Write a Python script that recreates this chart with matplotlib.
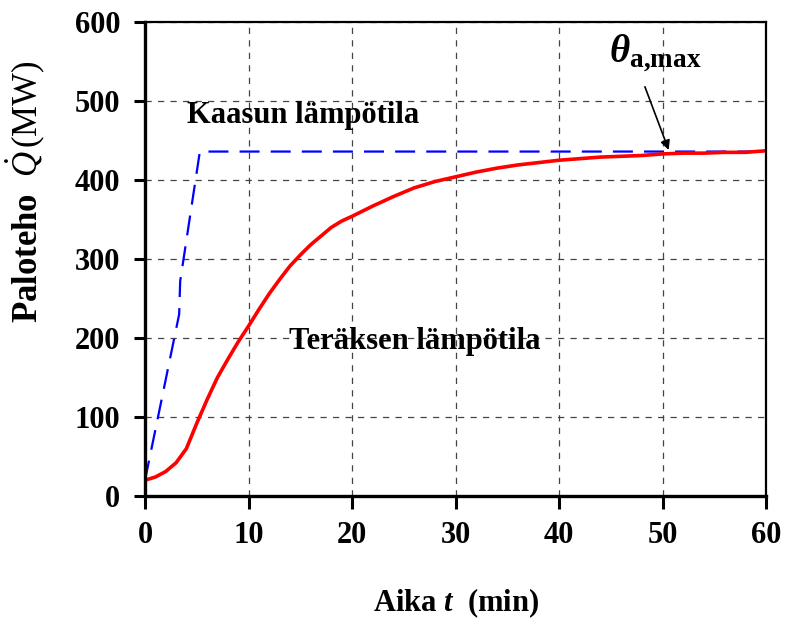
import matplotlib
matplotlib.use('Agg')
import matplotlib.pyplot as plt

plt.rcParams['font.family'] = 'Liberation Serif'
plt.rcParams['font.weight'] = 'bold'
plt.rcParams['axes.labelweight'] = 'bold'
plt.rcParams['mathtext.fontset'] = 'custom'
plt.rcParams['mathtext.rm'] = 'Liberation Serif:normal'
plt.rcParams['mathtext.it'] = 'Liberation Serif:italic:normal'
plt.rcParams['mathtext.bf'] = 'Liberation Serif:bold'
plt.rcParams['mathtext.bfit'] = 'Liberation Serif:italic:bold'

# kaasun lämpötila (katkoviiva)
aika_kaasu = [0, 3.3, 3.4, 5.3, 60]
teho_kaasu = [20, 230, 272, 436, 436]

# teräksen lämpötila (punainen käyrä)
aika_teras = [0, 1, 2, 3, 4, 5, 6, 7, 8, 9, 10, 11, 12, 13, 14, 15, 16, 17, 18, 19, 20,
              22, 24, 26, 28, 30, 32, 34, 36, 38, 40, 42, 44, 46, 48, 50, 52, 54, 56, 58, 60]
teho_teras = [20, 24, 31, 42, 60, 92, 122, 150, 173, 195, 215, 236, 256, 274, 291, 305, 318,
              329, 340, 348, 354, 367, 379, 390, 398, 404, 410, 415, 419, 422, 425, 427, 429,
              430, 431, 433, 434, 434, 435, 435, 437]

fig = plt.figure(figsize=(7.85, 6.2), dpi=100)
ax = fig.add_axes([145 / 785, 1 - 496 / 620, 621 / 785, 474 / 620])

ax.plot(aika_kaasu, teho_kaasu, color='blue', lw=1.6, dashes=(9, 5))
ax.plot(aika_teras, teho_teras, color='red', lw=2.6)

ax.set_xlim(0, 60)
ax.set_ylim(0, 600)
ax.set_xticks(range(0, 61, 10))
ax.set_yticks(range(0, 601, 100))
ax.grid(True, color='#444444', lw=0.9, dashes=(5, 5))

for s in ['left', 'bottom']:
    ax.spines[s].set_linewidth(2.4)
for s in ['top', 'right']:
    ax.spines[s].set_linewidth(1.6)
ax.tick_params(axis='y', direction='out', length=8, width=2.2, labelsize=22, pad=10)
ax.tick_params(axis='x', direction='out', length=9, width=2.2, labelsize=22, pad=9)

ax.set_xlabel(r'Aika $\mathbfit{t}$  (min)', fontsize=22, labelpad=26)
ax.set_ylabel(r'$\mathbf{Paloteho}\ \ \dot{Q}\,\mathrm{(MW)}$', fontsize=25)
ax.yaxis.set_label_coords(-0.158, 0.643)

ax.text(4.1, 482, 'Kaasun lämpötila', fontsize=22, va='center', ha='left')
ax.text(13.9, 195, 'Teräksen lämpötila', fontsize=22, va='center', ha='left')

ax.text(49.3, 560, r'$\mathbfit{\theta}_{\mathbf{a{,}max}}$', fontsize=28,
        ha='center', va='center')
ax.annotate('', xy=(50.6, 438), xytext=(48.3, 518),
            arrowprops=dict(arrowstyle='-|>', color='black', lw=1.2,
                            shrinkA=0, shrinkB=0, mutation_scale=14))

fig.savefig('out.png', dpi=100)
